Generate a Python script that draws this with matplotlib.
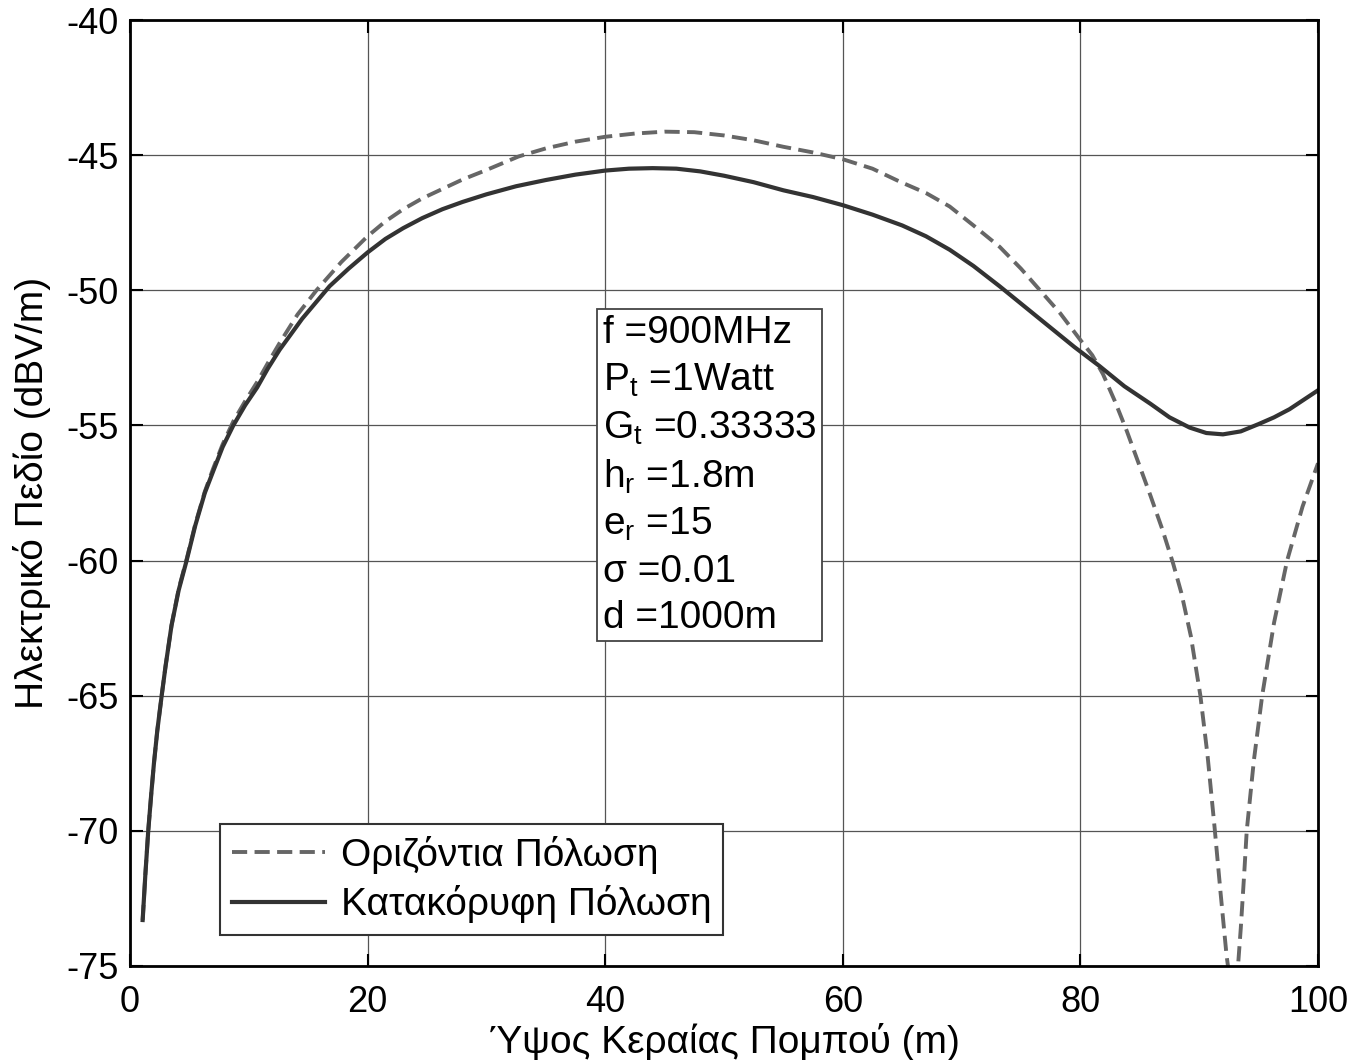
import matplotlib.pyplot as plt

plt.rcParams['font.family'] = ['Liberation Sans', 'DejaVu Sans']
plt.rcParams['axes.unicode_minus'] = False
plt.rcParams['mathtext.fontset'] = 'custom'
plt.rcParams['mathtext.rm'] = 'Liberation Sans'
plt.rcParams['mathtext.it'] = 'Liberation Sans'

# values
h_vert = [1.07, 1.3, 1.54, 1.8, 2.02, 2.3, 2.67, 3.0, 3.5, 4.1, 4.77, 5.5, 6.3, 7.0, 7.8,
          8.7, 9.7, 10.7, 11.6, 12.6, 14.5, 16.8, 18.4, 20, 21.5, 23, 24.6, 26.3, 28, 30,
          32.5, 35, 37.5, 40, 42, 44, 46, 48, 50, 52.5, 55, 57.5, 60, 62.5, 65, 67, 69,
          71, 73.2, 75.3, 77.4, 79.5, 81.6, 83.7, 85.9, 87.5, 89.2, 90.6, 92, 93.5, 95,
          96.3, 97.6, 98.8, 100]
E_vert = [-73.3, -71.6, -70.0, -68.6, -67.5, -66.3, -65.0, -63.9, -62.4, -61.1, -60.0, -58.7,
          -57.5, -56.7, -55.8, -55.0, -54.25, -53.6, -52.9, -52.2, -51.05, -49.85, -49.2,
          -48.6, -48.1, -47.7, -47.33, -47.0, -46.73, -46.45, -46.15, -45.92, -45.72, -45.57,
          -45.5, -45.48, -45.5, -45.6, -45.76, -46.0, -46.3, -46.55, -46.85, -47.2, -47.6,
          -48.0, -48.5, -49.1, -49.85, -50.6, -51.35, -52.1, -52.8, -53.55, -54.2, -54.7,
          -55.08, -55.28, -55.33, -55.22, -54.95, -54.7, -54.4, -54.05, -53.7]

h_horiz = [1.07, 1.3, 1.54, 1.8, 2.02, 2.3, 2.67, 3.0, 3.5, 4.1, 4.77, 5.5, 6.3, 7.0, 7.8,
           8.7, 9.7, 10.7, 11.6, 12.6, 14.1, 15.7, 17.8, 20, 21.5, 23, 24.6, 26.3, 28, 30,
           32.7, 35, 37.5, 40, 42.5, 45, 47.5, 50, 52.5, 55, 57.5, 60, 62.5, 64.8, 67, 69,
           71, 73.2, 75, 76.6, 78.3, 80, 81.0, 81.9, 82.9, 83.9, 84.9, 85.9, 86.9, 87.8,
           88.5, 89.3, 90.1, 90.7, 91.3, 91.8, 92.3, 92.6, 92.9, 93.2, 93.5, 93.8, 94.0,
           94.6, 95.3, 96.3, 97.4, 98.7, 100]
E_horiz = [-73.3, -71.6, -70.0, -68.6, -67.5, -66.3, -65.0, -63.9, -62.4, -61.05, -59.95,
           -58.65, -57.45, -56.6, -55.7, -54.85, -54.1, -53.4, -52.7, -51.95, -50.9, -50.0,
           -48.95, -48.0, -47.45, -47.0, -46.6, -46.25, -45.9, -45.55, -45.05, -44.75, -44.5,
           -44.32, -44.2, -44.13, -44.15, -44.27, -44.45, -44.69, -44.9, -45.15, -45.5,
           -45.98, -46.4, -46.9, -47.6, -48.39, -49.2, -50.0, -50.85, -51.84, -52.4, -53.1,
           -54.1, -55.2, -56.4, -57.6, -58.85, -60.1, -61.2, -62.8, -65.0, -67.2, -69.9,
           -72.3, -74.6, -75.6, -76.0, -75.4, -73.6, -71.5, -70.0, -67.4, -65.0, -62.3,
           -60.0, -58.0, -56.4]

params = ['f =900MHz', 'P$_t$ =1Watt', 'G$_t$ =0.33333', 'h$_r$ =1.8m', 'e$_r$ =15',
          'σ =0.01', 'd =1000m']

fig = plt.figure(figsize=(13.55, 10.6), dpi=100)
ax = fig.add_axes([0.0959, 0.0887, 0.8768, 0.8924])

ax.plot(h_horiz, E_horiz, color='#666666', lw=2.8, ls=(0, (3.9, 1.9)),
        label='Οριζόντια Πόλωση')
ax.plot(h_vert, E_vert, color='#333333', lw=3.0, label='Κατακόρυφη Πόλωση')

ax.set_xlim(0, 100)
ax.set_ylim(-75, -40)
ax.set_xticks(range(0, 101, 20))
ax.set_yticks(range(-75, -39, 5))
ax.grid(True, color='#555555', lw=0.9)
ax.tick_params(direction='in', length=9, width=1.5, labelsize=26,
               top=True, right=True)
ax.tick_params(axis='x', pad=14)
ax.tick_params(axis='y', pad=8)
for s in ax.spines.values():
    s.set_linewidth(2.0)

ax.set_xlabel('Ύψος Κεραίας Πομπού (m)', fontsize=28, labelpad=2)
ax.set_ylabel('Ηλεκτρικό Πεδίο (dBV/m)', fontsize=28, labelpad=11)

ax.text(0.398, 0.688, '\n'.join(params), transform=ax.transAxes, fontsize=28,
        va='top', ha='left', linespacing=1.36,
        bbox=dict(boxstyle='square,pad=0.15', fc='white', ec='#444444', lw=1.3))

leg = ax.legend(loc='lower left', bbox_to_anchor=(0.0758, 0.0328), borderaxespad=0,
                fontsize=28, fancybox=False, edgecolor='#333333', framealpha=1,
                handlelength=2.4, handletextpad=0.4, borderpad=0.3, labelspacing=0.3)
leg.get_frame().set_linewidth(1.5)

fig.savefig('out.png', dpi=100)
